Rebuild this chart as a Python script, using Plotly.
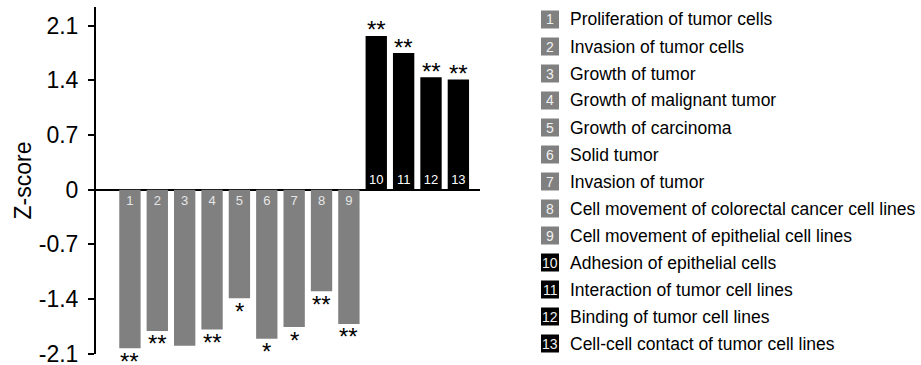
import plotly.graph_objects as go

categories = [
    "Proliferation of tumor cells",
    "Invasion of tumor cells",
    "Growth of tumor",
    "Growth of malignant tumor",
    "Growth of carcinoma",
    "Solid tumor",
    "Invasion of tumor",
    "Cell movement of colorectal cancer cell lines",
    "Cell movement of epithelial cell lines",
    "Adhesion of epithelial cells",
    "Interaction of tumor cell lines",
    "Binding of tumor cell lines",
    "Cell-cell contact of tumor cell lines",
]
bar_ids = list(range(1, 14))
zscores = [-2.03, -1.81, -2.00, -1.79, -1.39, -1.91, -1.76, -1.30, -1.72,
           1.97, 1.75, 1.44, 1.41]
significance = ["**", "**", "", "**", "*", "*", "*", "**", "**",
                "**", "**", "**", "**"]
tick_vals = [-2.1, -1.4, -0.7, 0, 0.7, 1.4, 2.1]
tick_text = ["-2.1", "-1.4", "-0.7", "0", "0.7", "1.4", "2.1"]

GREY = "#808080"
BLACK = "#000000"
colors = [GREY if z < 0 else BLACK for z in zscores]
num_colors = ["#e6e6e6" if z < 0 else "#ffffff" for z in zscores]

FONT = "Liberation Sans, Arial, sans-serif"

fig = go.Figure()
fig.add_trace(go.Bar(
    x=bar_ids, y=zscores, width=0.78,
    marker=dict(color=colors, line=dict(width=0)),
    text=[str(i) for i in bar_ids],
    textposition="inside", insidetextanchor="start", textangle=0,
    textfont=dict(family=FONT, size=13, color=num_colors),
    constraintext="none",
    hovertext=categories, hoverinfo="text", showlegend=False,
))

annotations = []
for i, z, s in zip(bar_ids, zscores, significance):
    if not s:
        continue
    annotations.append(dict(
        x=i, y=z, xref="x", yref="y", text=s, showarrow=False,
        yanchor="middle", yshift=(-13 if z < 0 else 6),
        font=dict(family=FONT, size=24, color="black"),
    ))

# legend built from categories (pixel layout converted to paper coords)
L, R, T, B = 96, 480, 7, 354
W, H = 921, 365
def px_x(p):
    return (p - L) / (R - L)
def px_y(p):
    return (B - p) / (B - T)

shapes = []
row0, step = 19.5, 27.0
for k, (i, name, c) in enumerate(zip(bar_ids, categories, colors)):
    cy = row0 + k * step
    shapes.append(dict(type="rect", xref="paper", yref="paper",
                       x0=px_x(541), x1=px_x(559), y0=px_y(cy + 9), y1=px_y(cy - 9),
                       fillcolor=c, line=dict(width=0), layer="above"))
    annotations.append(dict(x=px_x(550), y=px_y(cy), xref="paper", yref="paper",
                            text=str(i), showarrow=False, xanchor="center", yanchor="middle",
                            font=dict(family=FONT, size=14, color="#f0f0f0")))
    annotations.append(dict(x=px_x(568), y=px_y(cy), xref="paper", yref="paper",
                            text=name, showarrow=False, xanchor="left", yanchor="middle",
                            font=dict(family=FONT, size=17.5, color="black")))

fig.update_layout(
    template="none",
    width=W, height=H,
    margin=dict(l=L, r=W - R, t=T, b=H - B, autoexpand=False),
    paper_bgcolor="white", plot_bgcolor="white",
    bargap=0.2,
    xaxis=dict(range=[-0.24, 13.79], showline=False, showgrid=False, zeroline=False,
               showticklabels=False, ticks="", automargin=False),
    yaxis=dict(range=[-2.105, 2.34], tickvals=tick_vals, ticktext=tick_text,
               automargin=False, ticklabeloverflow="allow",
               showline=True, linecolor="black", linewidth=2,
               ticks="outside", ticklen=6, tickwidth=2, tickcolor="black",
               showgrid=False, zeroline=True, zerolinecolor="black", zerolinewidth=2,
               tickfont=dict(family=FONT, size=23, color="black"),
               ticklabelstandoff=5,
               title=dict(text="Z-score", font=dict(family=FONT, size=23, color="black"),
                          standoff=1)),
    annotations=annotations, shapes=shapes,
)

fig.write_html(
    "out.html",
    config={"displayModeBar": False},
    post_script="document.body.style.margin='0';document.body.style.overflow='hidden';",
)
